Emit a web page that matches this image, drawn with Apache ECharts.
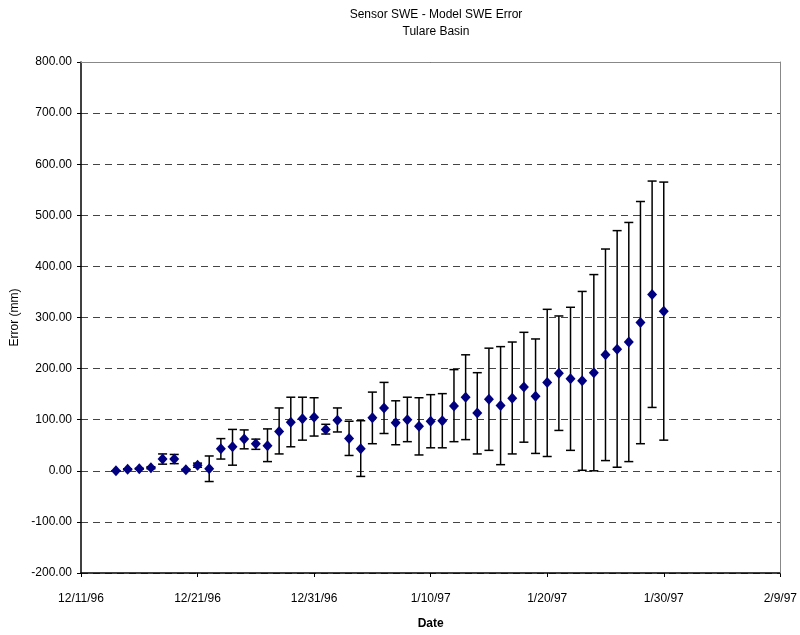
<!DOCTYPE html>
<html>
<head>
<meta charset="utf-8">
<script src="https://cdn.jsdelivr.net/npm/echarts@6/dist/echarts.min.js"></script>
<style>html,body{margin:0;padding:0;background:#fff}#c{width:800px;height:635px}</style>
</head>
<body>
<div id="c"></div>
<script>
const dates = ['12/14/96','12/15/96','12/16/96','12/17/96','12/18/96','12/19/96','12/20/96','12/21/96','12/22/96','12/23/96',
  '12/24/96','12/25/96','12/26/96','12/27/96','12/28/96','12/29/96','12/30/96','12/31/96','1/1/97','1/2/97',
  '1/3/97','1/4/97','1/5/97','1/6/97','1/7/97','1/8/97','1/9/97','1/10/97','1/11/97','1/12/97',
  '1/13/97','1/14/97','1/15/97','1/16/97','1/17/97','1/18/97','1/19/97','1/20/97','1/21/97','1/22/97',
  '1/23/97','1/24/97','1/25/97','1/26/97','1/27/97','1/28/97','1/29/97','1/30/97'];
const values = [0,3,4,6,23,23,2,11,4,43,
  47,62,53,49,77,95,102,105,81,99,
  63,43,104,123,94,100,87,97,98,127,
  144,113,140,128,142,164,146,173,191,180,
  176,192,227,238,252,290,345,312];
const lows = [0,2,3,4,13,14,1,7,-21,23,
  11,43,42,18,33,47,60,68,72,76,
  30,-11,53,73,51,57,31,45,45,57,
  61,33,40,12,33,56,34,28,79,40,
  1,0,20,7,18,53,124,60];
const highs = [0,4,5,8,33,32,3,15,29,63,
  81,80,62,82,123,144,144,143,91,123,
  97,98,154,173,137,144,143,149,151,198,
  227,192,240,243,252,271,258,316,303,320,
  351,384,434,470,486,527,567,565];
const xTickLabels = ['12/11/96','12/21/96','12/31/96','1/10/97','1/20/97','1/30/97','2/9/97'];
const yMin = -200, yMax = 800, yStep = 100;

function toDay(s) {
  const p = s.split('/').map(Number);
  return Date.UTC(1900 + p[2], p[0] - 1, p[1]) / 86400000;
}
const base = toDay(xTickLabels[0]);
const xMax = toDay(xTickLabels[xTickLabels.length - 1]) - base;
const xs = dates.map(d => toDay(d) - base);

const font = 'Liberation Sans, Arial, sans-serif';
const chart = echarts.init(document.getElementById('c'));
chart.setOption({
  animation: false,
  backgroundColor: '#fff',
  textStyle: { fontFamily: font, color: '#000' },
  title: {
    text: 'Sensor SWE - Model SWE Error\nTulare Basin',
    left: 431, top: 1, textAlign: 'center',
    textStyle: { fontFamily: font, fontSize: 12, fontWeight: 'normal', color: '#000', lineHeight: 17 }
  },
  grid: { left: 81, right: 18, top: 62, bottom: 61 },
  xAxis: [{
    type: 'value', min: 0, max: xMax, interval: 10,
    name: 'Date', nameLocation: 'middle', nameGap: 45,
    nameTextStyle: { fontFamily: font, fontSize: 12, fontWeight: 'bold', color: '#000' },
    axisLine: { show: true, onZero: false, lineStyle: { color: '#000', width: 1.5 } },
    axisTick: { show: true, inside: false, length: 4, lineStyle: { color: '#000' } },
    axisLabel: { fontFamily: font, fontSize: 12, color: '#000', margin: 20,
      formatter: v => xTickLabels[Math.round(v / 10)] },
    splitLine: { show: false }
  }, {
    type: 'value', position: 'top', min: 0, max: xMax, z: 5,
    axisLine: { show: true, onZero: false, lineStyle: { color: '#888', width: 1 } },
    axisTick: { show: false }, axisLabel: { show: false }, splitLine: { show: false }
  }],
  yAxis: [{
    type: 'value', min: yMin, max: yMax, interval: yStep,
    name: 'Error (mm)', nameLocation: 'middle', nameGap: 55,
    nameTextStyle: { fontFamily: font, fontSize: 12, color: '#000' },
    axisLine: { show: true, onZero: false, lineStyle: { color: '#000', width: 1.5 } },
    axisTick: { show: true, inside: false, length: 4, lineStyle: { color: '#000' } },
    axisLabel: { fontFamily: font, fontSize: 12, color: '#000', margin: 9,
      formatter: v => v.toFixed(2) },
    splitLine: { show: true, lineStyle: { color: '#444', width: 1, type: [7, 5] } }
  }, {
    type: 'value', position: 'right', min: yMin, max: yMax, z: 5,
    axisLine: { show: true, onZero: false, lineStyle: { color: '#888', width: 1 } },
    axisTick: { show: false }, axisLabel: { show: false }, splitLine: { show: false }
  }],
  series: [{
    type: 'custom',
    xAxisIndex: 0, yAxisIndex: 0,
    data: xs.map((x, i) => [x, lows[i], highs[i]]),
    encode: { x: 0, y: [1, 2] },
    z: 3,
    renderItem: function (params, api) {
      const x = api.value(0);
      const top = api.coord([x, api.value(2)]);
      const bot = api.coord([x, api.value(1)]);
      const hw = 4.5;
      const st = { stroke: '#000', lineWidth: 1.5 };
      return {
        type: 'group',
        children: [
          { type: 'line', shape: { x1: top[0], y1: top[1], x2: bot[0], y2: bot[1] }, style: st },
          { type: 'line', shape: { x1: top[0] - hw, y1: top[1], x2: top[0] + hw, y2: top[1] }, style: st },
          { type: 'line', shape: { x1: bot[0] - hw, y1: bot[1], x2: bot[0] + hw, y2: bot[1] }, style: st }
        ]
      };
    }
  }, {
    type: 'scatter',
    xAxisIndex: 0, yAxisIndex: 0,
    data: xs.map((x, i) => [x, values[i]]),
    symbol: 'diamond',
    symbolSize: [10, 11],
    itemStyle: { color: '#000080', opacity: 1 },
    z: 4
  }]
});
</script>
</body>
</html>
